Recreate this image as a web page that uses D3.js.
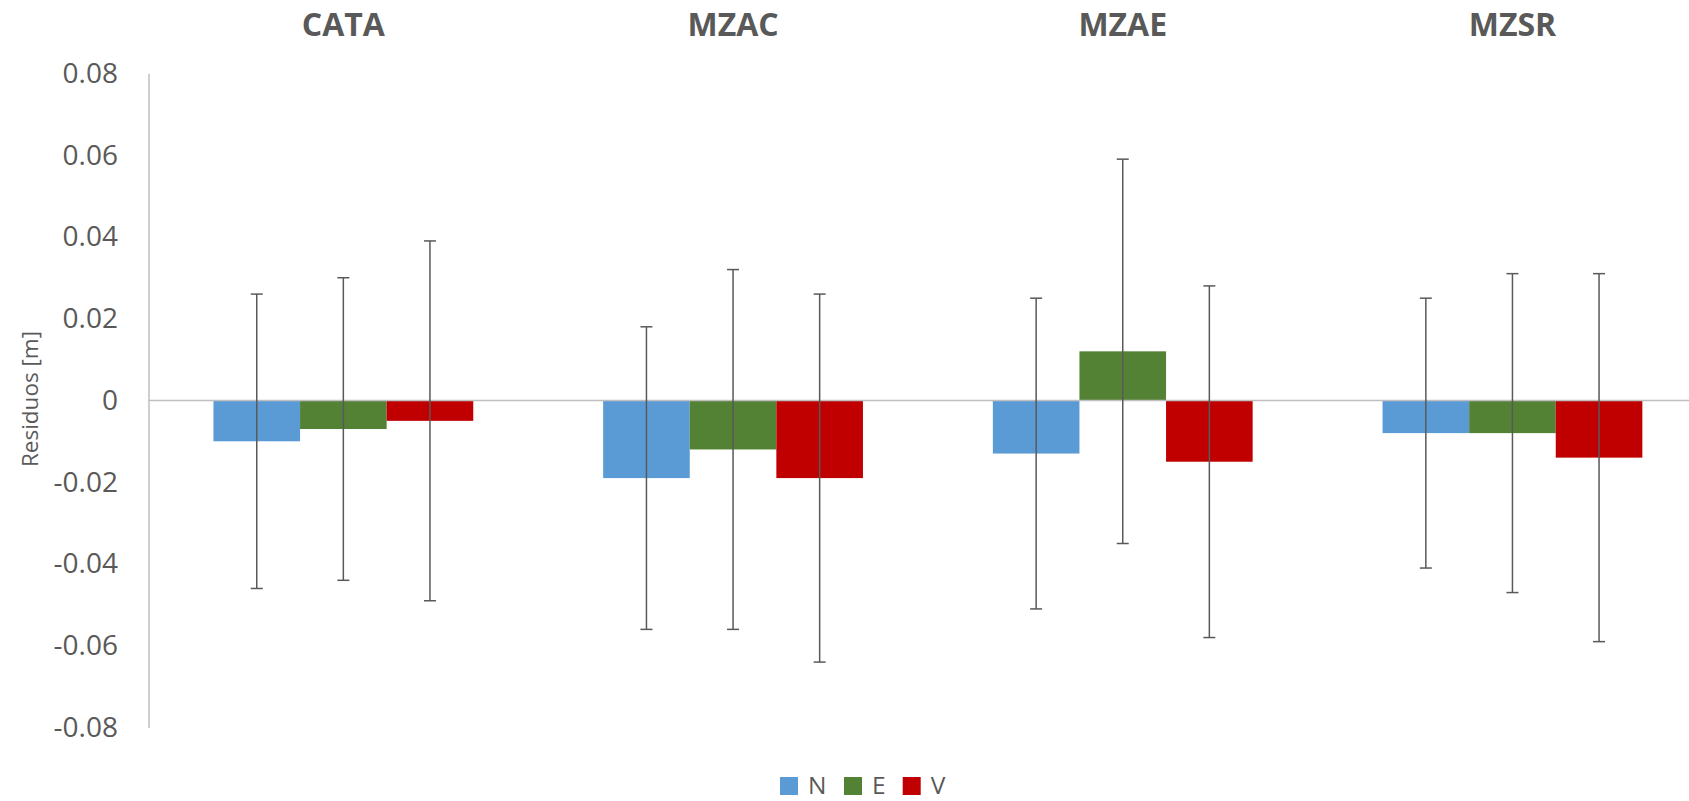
<!DOCTYPE html>
<html>
<head>
<meta charset="utf-8">
<script src="https://cdn.jsdelivr.net/npm/d3@7"></script>
<style>
  html, body { margin: 0; padding: 0; background: #fff; }
  svg { display: block; }
  text { font-family: "Open Sans", "DejaVu Sans", sans-serif; fill: #595959; }
</style>
</head>
<body>
<svg id="chart" width="1689" height="801"></svg>
<script>
// ---- data ----
const stations = ["CATA", "MZAC", "MZAE", "MZSR"];
const seriesNames = ["N", "E", "V"];
const valuesN = [-0.010, -0.019, -0.013, -0.008];
const valuesE = [-0.007, -0.012, 0.012, -0.008];
const valuesV = [-0.005, -0.019, -0.015, -0.014];
const errN = [0.036, 0.037, 0.038, 0.033];
const errE = [0.037, 0.044, 0.047, 0.039];
const errV = [0.044, 0.045, 0.043, 0.045];
const yTicks = [0.08, 0.06, 0.04, 0.02, 0, -0.02, -0.04, -0.06, -0.08];
const yLabel = "Residuos [m]";

const colors = { N: "#5B9BD5", E: "#548235", V: "#C00000" };
const vals = { N: valuesN, E: valuesE, V: valuesV };
const errs = { N: errN, E: errE, V: errV };

const rows = [];
stations.forEach((s, i) => {
  seriesNames.forEach(k => rows.push({ station: s, key: k, value: vals[k][i], err: errs[k][i] }));
});

// ---- layout ----
const W = 1689, H = 801;
const x0 = 148.5, x1 = 1707.3;
const yTop = 73.3, yBot = 727.5;

const svg = d3.select("#chart");

const x = d3.scaleBand().domain(stations).range([x0, x1]).paddingInner(1/3).paddingOuter(1/6);
const xs = d3.scaleBand().domain(seriesNames).range([0, x.bandwidth()]);
const y = d3.scaleLinear().domain([-0.08, 0.08]).range([yBot, yTop]);

// y axis
const yAxis = d3.axisLeft(y).tickValues(yTicks).tickSize(0).tickPadding(30.5)
  .tickFormat(d => d === 0 ? "0" : d.toFixed(2));
const ga = svg.append("g").attr("transform", `translate(${x0},0)`).call(yAxis);
ga.select(".domain").attr("stroke", "#BFBFBF").attr("stroke-width", 1.5);
ga.selectAll(".tick text").attr("font-size", 28).attr("fill", "#595959")
  .style("font-family", "'Open Sans', sans-serif");

// y label
svg.append("text")
  .attr("transform", `translate(38,399) rotate(-90)`)
  .attr("text-anchor", "middle")
  .attr("font-size", 22.5)
  .text(yLabel);

// bars
svg.append("g").selectAll("rect").data(rows).join("rect")
  .attr("x", d => x(d.station) + xs(d.key))
  .attr("width", xs.bandwidth())
  .attr("y", d => y(Math.max(0, d.value)))
  .attr("height", d => Math.abs(y(d.value) - y(0)))
  .attr("fill", d => colors[d.key]);

// zero line
svg.append("line")
  .attr("x1", x0).attr("x2", W)
  .attr("y1", y(0)).attr("y2", y(0))
  .attr("stroke", "#BFBFBF").attr("stroke-width", 1.5);

// error bars
const cap = 6;
const eb = svg.append("g").attr("stroke", "#595959").attr("stroke-width", 1.5);
rows.forEach(d => {
  const cx = x(d.station) + xs(d.key) + xs.bandwidth() / 2;
  const yt = y(d.value + d.err), yb = y(d.value - d.err);
  eb.append("line").attr("x1", cx).attr("x2", cx).attr("y1", yt).attr("y2", yb);
  eb.append("line").attr("x1", cx - cap).attr("x2", cx + cap).attr("y1", yt).attr("y2", yt);
  eb.append("line").attr("x1", cx - cap).attr("x2", cx + cap).attr("y1", yb).attr("y2", yb);
});

// station titles
svg.append("g").selectAll("text").data(stations).join("text")
  .attr("x", d => x(d) + x.bandwidth() / 2)
  .attr("y", 36)
  .attr("text-anchor", "middle")
  .attr("font-size", 32)
  .attr("font-weight", "bold")
  .text(d => d);

// legend
const legendX = [780, 844, 902.7];
const lg = svg.append("g");
seriesNames.forEach((k, i) => {
  lg.append("rect").attr("x", legendX[i]).attr("y", 777).attr("width", 18).attr("height", 18).attr("fill", colors[k]);
  lg.append("text").attr("x", legendX[i] + 28).attr("y", 794).attr("font-size", 24.5).text(k);
});
</script>
</body>
</html>
